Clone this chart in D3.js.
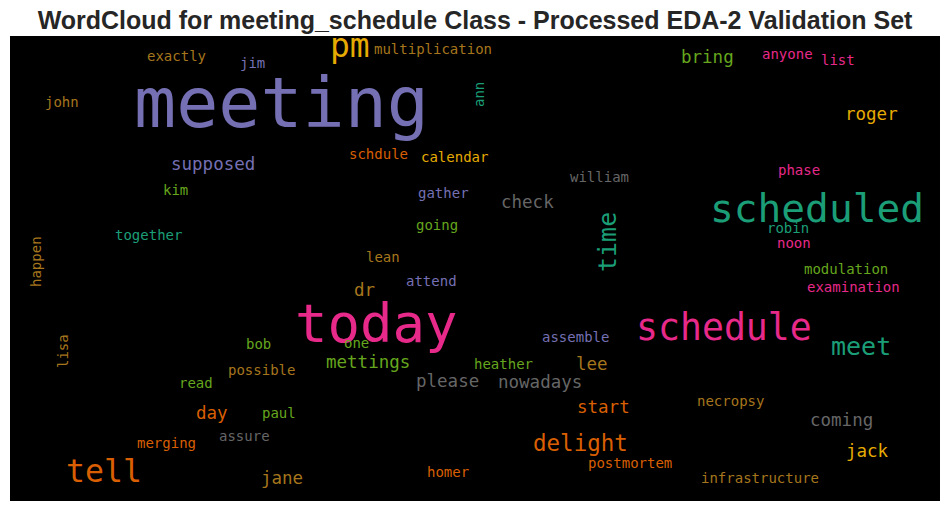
<!DOCTYPE html>
<html>
<head>
<meta charset="utf-8">
<script src="https://cdn.jsdelivr.net/npm/d3@7"></script>
<style>
  html, body { margin: 0; padding: 0; background: #fff; }
  svg { display: block; }
</style>
</head>
<body>
<div id="page"></div>
<script>
// word cloud data
// positions are in the cloud's own frame (0..930 x 0..465), baseline / start of each word
const title_text = "WordCloud for meeting_schedule Class - Processed EDA-2 Validation Set";

const words = [
    "meeting", "today", "scheduled", "schedule", "pm", "tell", "meet", "time", "delight",
    "supposed", "mettings", "nowadays", "bring", "roger", "check", "please", "start", "coming",
    "jack", "day", "jane", "lee", "dr",
    "multiplication", "exactly", "jim", "john", "anyone", "list", "ann", "schdule", "calendar",
    "william", "phase", "kim", "gather", "going", "together", "robin", "noon", "happen", "lean",
    "attend", "modulation", "examination", "lisa", "bob", "one", "assemble", "heather",
    "possible", "read", "paul", "necropsy", "assure", "merging", "homer", "postmortem",
    "infrastructure"
];
const sizes = [
    70, 54, 39.5, 36.5, 33, 31.5, 25, 25, 22.5,
    17.5, 17.5, 17.5, 17.5, 17.5, 17.5, 17.5, 17.5, 17.5,
    17.5, 17.5, 17.5, 17.5, 17.5,
    14, 14, 14, 14, 14, 14, 14, 14, 14,
    14, 14, 14, 14, 14, 14, 14, 14, 14, 14,
    14, 14, 14, 14, 14, 14, 14, 14,
    14, 14, 14, 14, 14, 14, 14, 14,
    14
];
// index into Dark2: 0 teal, 1 orange, 2 purple, 3 pink, 4 green, 5 yellow, 6 brown, 7 grey
const color_idx = [
    2, 3, 0, 3, 5, 1, 0, 0, 1,
    2, 4, 7, 4, 5, 7, 7, 1, 7,
    5, 1, 6, 6, 6,
    6, 6, 2, 6, 3, 3, 0, 1, 5,
    7, 3, 4, 2, 4, 0, 0, 3, 6, 6,
    2, 4, 3, 6, 4, 4, 2, 4,
    6, 4, 4, 6, 7, 1, 1, 1,
    6
];
const pos_x = [
    124, 285, 700, 626, 320, 56, 821, 606, 523,
    161, 316, 488, 671, 835, 491, 406, 567, 800,
    836, 186, 251, 566, 344,
    364, 137, 230, 35, 752, 811, 474, 339, 411,
    560, 768, 153, 408, 406, 105, 757, 767, 31, 356,
    396, 794, 797, 58, 236, 334, 532, 464,
    218, 169, 252, 687, 209, 127, 417, 578,
    691
];
const pos_y = [
    91, 306, 186, 304, 21, 446, 319, 236, 415,
    134, 332, 352, 27, 84, 172, 351, 377, 390,
    421, 383, 448, 334, 260,
    18, 25, 32, 71, 23, 29, 71, 123, 126,
    146, 139, 159, 162, 194, 204, 197, 212, 251, 226,
    250, 238, 256, 332, 313, 312, 306, 333,
    339, 352, 382, 370, 405, 412, 441, 432,
    447
];
// 1 = turned 90 degrees, reading upwards
const rotated = [
    0, 0, 0, 0, 0, 0, 0, 1, 0,
    0, 0, 0, 0, 0, 0, 0, 0, 0,
    0, 0, 0, 0, 0,
    0, 0, 0, 0, 0, 0, 1, 0, 0,
    0, 0, 0, 0, 0, 0, 0, 0, 1, 0,
    0, 0, 0, 1, 0, 0, 0, 0,
    0, 0, 0, 0, 0, 0, 0, 0,
    0
];

const W = 950, H = 511;
const cloud_w = 930, cloud_h = 465;
const panel = { left: 10, top: 36, right: 940, bottom: 501 };

const x = d3.scaleLinear().domain([0, cloud_w]).range([panel.left, panel.right]);
const y = d3.scaleLinear().domain([0, cloud_h]).range([panel.top, panel.bottom]);
const color = d3.scaleOrdinal().domain(d3.range(8)).range(d3.schemeDark2);

const rows = words.map((w, i) => ({
    text: w,
    size: sizes[i],
    color: color(color_idx[i]),
    x: pos_x[i],
    y: pos_y[i],
    rot: rotated[i]
}));

const svg = d3.select("#page")
    .append("svg")
    .attr("width", W)
    .attr("height", H);

// title
svg.append("text")
    .attr("x", 475)
    .attr("y", 28.5)
    .attr("text-anchor", "middle")
    .attr("font-family", "'Liberation Sans', Arial, sans-serif")
    .attr("font-weight", "bold")
    .attr("font-size", 25)
    .attr("fill", "#262626")
    .text(title_text);

// black image area
svg.append("rect")
    .attr("x", panel.left)
    .attr("y", panel.top)
    .attr("width", panel.right - panel.left)
    .attr("height", panel.bottom - panel.top)
    .attr("fill", "#000");

const g = svg.append("g")
    .attr("font-family", "'DejaVu Sans Mono', monospace");

g.selectAll("text.word")
    .data(rows)
    .join("text")
    .attr("class", "word")
    .attr("transform", (d) => `translate(${x(d.x)},${y(d.y)})` + (d.rot ? " rotate(-90)" : ""))
    .attr("font-size", (d) => d.size)
    .attr("fill", (d) => d.color)
    .text((d) => d.text);
</script>
</body>
</html>
